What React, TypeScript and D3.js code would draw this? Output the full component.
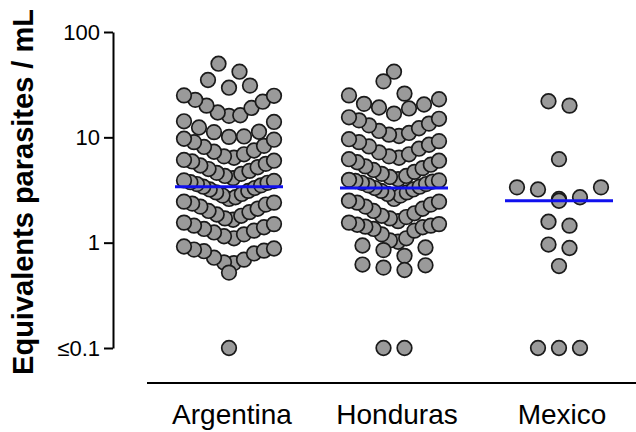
import * as d3 from "d3";
import { useRef, useEffect } from "react";

// categories and values (log scale, 0.1 = detection floor)
const categories = ["Argentina", "Honduras", "Mexico"];

const argentina = [
  50, 42,
  35, 31, 29.6,
  25, 24.8, 22.7, 21.8, 20, 19, 17.2,
  16.2, 16.0, 14.2, 14.0, 12.4, 11.3, 11.2, 10.2, 10.1,
  9.7, 9.5, 9.0, 8.3, 8.1, 7.5, 7.3, 6.9, 6.6, 6.4,
  6.1, 6.0, 5.9, 5.6, 5.4, 5.2, 5.0, 4.8, 4.6, 4.5, 4.3, 4.1,
  3.9, 3.85, 3.75, 3.7, 3.6, 3.5, 3.4, 3.3, 3.2, 3.1, 3.0, 2.9, 2.8, 2.7, 2.6,
  2.45, 2.4, 2.35, 2.3, 2.2, 2.1, 2.0, 1.95, 1.85, 1.8, 1.7, 1.65,
  1.55, 1.5, 1.45, 1.4, 1.35, 1.3, 1.25, 1.2, 1.15, 1.1,
  0.92, 0.88, 0.86, 0.84, 0.83, 0.79, 0.72, 0.69, 0.65, 0.64,
  0.52,
  0.1,
];

const honduras = [
  42,
  34,
  26, 25, 23, 20.8, 20.5, 19.2, 18.8,
  16.8, 15.5, 15.0, 14.5, 13.5, 13.0, 12.2, 11.5, 11.0, 10.6, 10.3,
  9.6, 9.2, 9.0, 8.5, 8.2, 7.8, 7.2, 6.9, 6.6, 6.4,
  6.2, 6.0, 5.8, 5.5, 5.3, 5.1, 4.9, 4.7, 4.5, 4.3, 4.2, 4.0,
  3.95, 3.9, 3.85, 3.8, 3.7, 3.6, 3.5, 3.4, 3.3, 3.2, 3.1, 3.0, 2.9, 2.8, 2.6,
  2.5, 2.45, 2.4, 2.3, 2.2, 2.1, 2.0, 1.9, 1.8, 1.75, 1.7, 1.6,
  1.55, 1.5, 1.48, 1.45, 1.42, 1.4, 1.35, 1.3, 1.2, 1.1, 1.05, 1.02,
  0.94, 0.9, 0.85, 0.75,
  0.62, 0.61, 0.58, 0.55,
  0.1, 0.1,
];

const mexico = [
  22, 20,
  6.2,
  3.35, 3.35, 3.2, 2.7, 2.6, 2.5,
  1.58, 1.45,
  0.96, 0.89,
  0.6,
  0.1, 0.1, 0.1,
];

const medians = [3.4, 3.3, 2.5];
const tickValues = [0.1, 1, 10, 100];
const tickLabels = ["≤0.1", "1", "10", "100"];
const yTitle = "Equivalents parasites / mL";

const groups = [argentina, honduras, mexico];

// Prism-like scatter: bin by 0.2 decade, lowest value in the middle of each row
function swarm(values: number[], cx: number, y: d3.ScaleLogarithmic<number, number>) {
  const bins = d3.group(values, v => Math.floor(Math.log10(v) / 0.2 + 1e-9));
  const out: { x: number; y: number }[] = [];
  bins.forEach(vals => {
    const sorted = vals.slice().sort(d3.ascending);
    const n = sorted.length;
    const step = n > 1 ? Math.min(21, 90 / (n - 1)) : 0;
    const slots = d3.range(n).map(k => k - (n - 1) / 2)
      .sort((a, b) => Math.abs(a) - Math.abs(b) || b - a);
    sorted.forEach((v, i) => out.push({ x: cx + slots[i] * step, y: y(v) }));
  });
  return out;
}

const App = () => {
  const chartRef = useRef<SVGSVGElement | null>(null);
  const width = 636;
  const height = 432;

  useEffect(() => {
    const svg = d3.select(chartRef.current);
    svg.selectAll("*").remove();
    const font = "'Liberation Sans', Arial, Helvetica, sans-serif";

    const y = d3.scaleLog().domain([0.1, 100]).range([348, 32]);
    const x = d3.scalePoint<string>().domain(categories).range([229, 559]);

    // y axis
    const yAxis = d3.axisLeft(y)
      .tickValues(tickValues)
      .tickFormat((d, i) => tickLabels[i])
      .tickSize(9)
      .tickSizeOuter(0)
      .tickPadding(4);
    const gy = svg.append("g").attr("transform", "translate(113,0)").call(yAxis);
    gy.selectAll("path, line").attr("stroke", "#000").attr("stroke-width", 2);
    gy.selectAll("text").attr("font-size", 22).attr("font-family", font).attr("fill", "#000");

    svg.append("text")
      .attr("transform", "translate(33,192) rotate(-90)")
      .attr("text-anchor", "middle")
      .attr("font-family", font)
      .attr("font-weight", "bold")
      .attr("font-size", 29)
      .text(yTitle);

    // x axis line + labels
    svg.append("line")
      .attr("x1", 147).attr("x2", width)
      .attr("y1", 383).attr("y2", 383)
      .attr("stroke", "#000").attr("stroke-width", 2);

    svg.selectAll(".cat")
      .data(categories)
      .enter()
      .append("text")
      .attr("x", d => x(d)! + 3)
      .attr("y", 424)
      .attr("text-anchor", "middle")
      .attr("font-family", font)
      .attr("font-size", 28)
      .text(d => d);

    // points
    groups.forEach((vals, gi) => {
      const pts = swarm(vals, x(categories[gi])!, y);
      svg.append("g")
        .selectAll("circle")
        .data(pts)
        .enter()
        .append("circle")
        .attr("cx", d => d.x)
        .attr("cy", d => d.y)
        .attr("r", 7.3)
        .attr("fill", "#9a9a9a")
        .attr("stroke", "#1a1a1a")
        .attr("stroke-width", 1.7);
    });

    // median lines
    svg.selectAll(".med")
      .data(medians)
      .enter()
      .append("line")
      .attr("x1", (d, i) => x(categories[i])! - 54)
      .attr("x2", (d, i) => x(categories[i])! + 54)
      .attr("y1", d => y(d))
      .attr("y2", d => y(d))
      .attr("stroke", "#1010ee")
      .attr("stroke-width", 3);
  }, []);

  return (
    <svg
      ref={chartRef}
      width={width}
      height={height}
      style={{ position: "absolute", left: 0, top: 0, background: "#fff" }}
    />
  );
};

export default App;
